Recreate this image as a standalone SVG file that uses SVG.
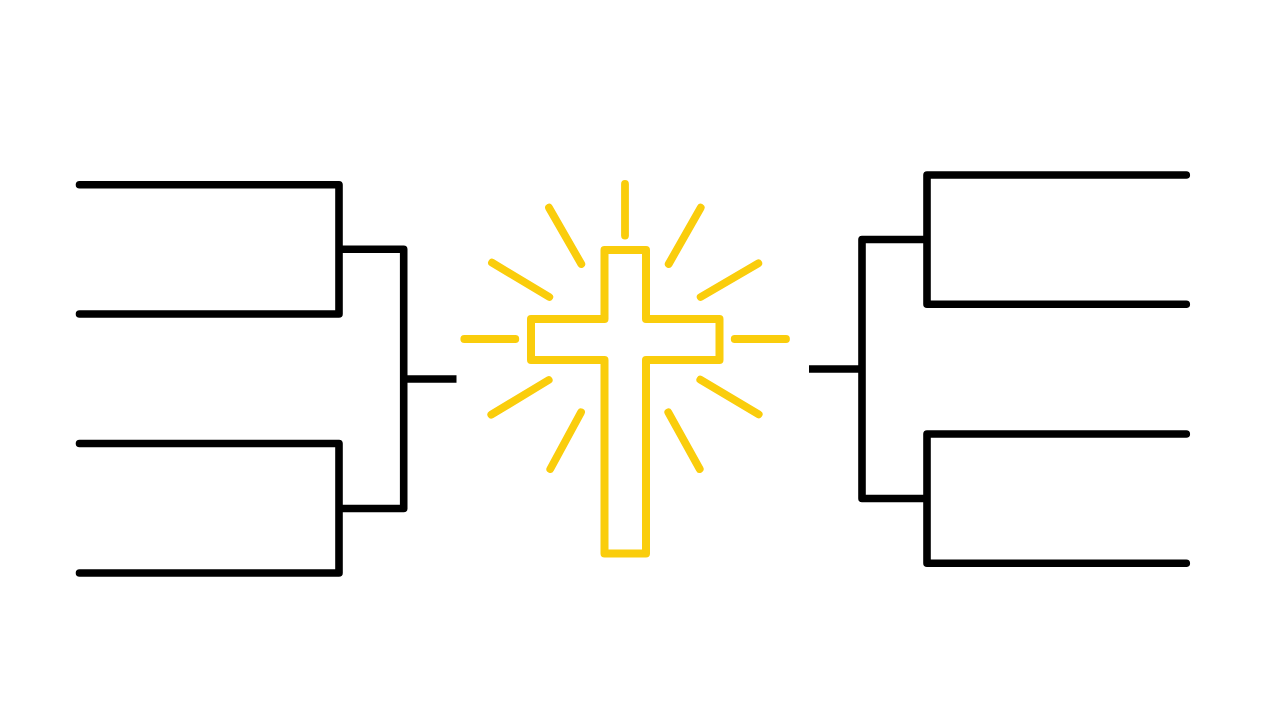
<svg xmlns="http://www.w3.org/2000/svg" width="1262" height="714" viewBox="0 0 1262 714">
<style>
.b{fill:none;stroke:#000;stroke-width:7.6;stroke-linejoin:round;stroke-linecap:round}
.t{fill:none;stroke:#000;stroke-width:7.6;stroke-linejoin:round}
.c{fill:none;stroke:#facd0c;stroke-width:8;stroke-linejoin:round}
.r{fill:none;stroke:#facd0c;stroke-width:7.8;stroke-linecap:round}
</style>
<rect width="1262" height="714" fill="#fff"/>
<g id="connectors">
<path class="b" d="M79.500 184.700H339V314H79.500"/>
<path class="b" d="M79.500 443.500H339V573H79.500"/>
<path class="t" d="M339 249.300H403.700V508.500H339"/>
<path class="t" d="M403.700 379H456.500"/>
<path class="b" d="M1186.300 175H927V304.300H1186.300"/>
<path class="b" d="M1186.300 434H927V563.300H1186.300"/>
<path class="t" d="M927 239.500H862V498.500H927"/>
<path class="t" d="M809 369H862"/>
</g>
<g id="cross">
<path class="c" d="M604.500 250H646V319H719.500V360H646V553.500H604.500V360H531V319H604.500Z"/>
</g>
<g id="rays">
<path class="r" d="M625 184V235.500"/>
<path class="r" d="M549 207.700L581.300 264"/>
<path class="r" d="M700.700 207.700L668.700 264"/>
<path class="r" d="M492 262.700L549.300 297"/>
<path class="r" d="M758.300 263.300L700.700 297"/>
<path class="r" d="M464.300 339H515.300"/>
<path class="r" d="M734.700 339H786"/>
<path class="r" d="M491.300 414.700L548.700 380"/>
<path class="r" d="M758.700 414.300L700.300 379.700"/>
<path class="r" d="M550.300 469L581 412.300"/>
<path class="r" d="M699.700 469L668.300 412.300"/>
</g>
</svg>
